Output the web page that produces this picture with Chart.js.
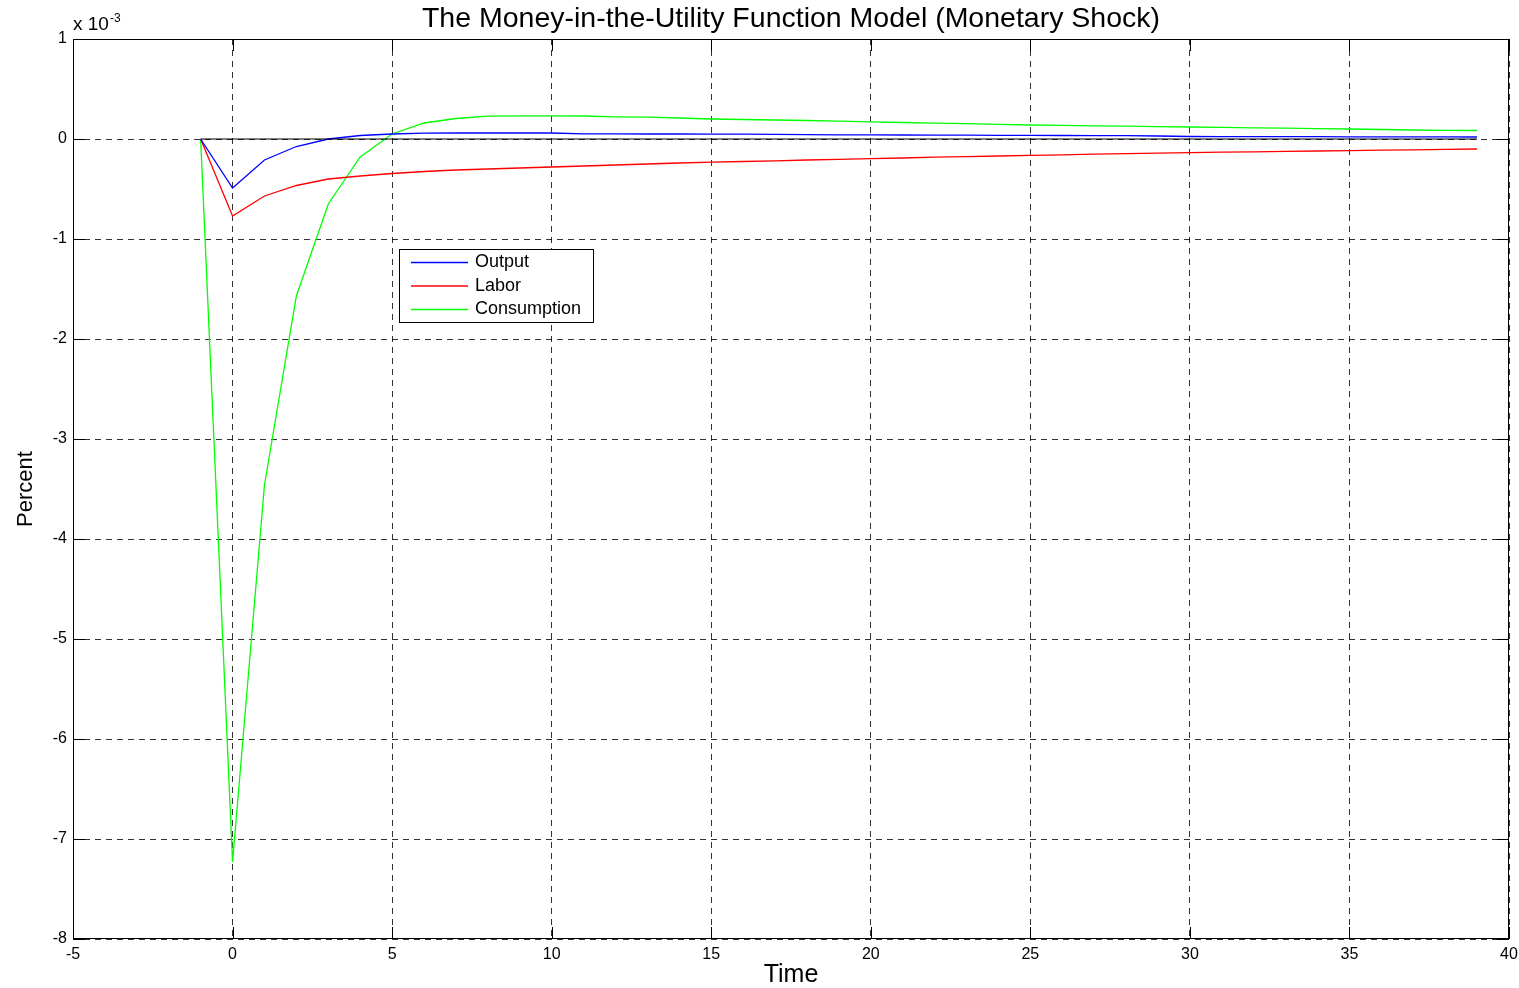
<!DOCTYPE html>
<html>
<head>
<meta charset="utf-8">
<script src="https://cdn.jsdelivr.net/npm/chart.js@4.4.0/dist/chart.umd.min.js"></script>
<style>
  html, body { margin: 0; padding: 0; background: #fff; }
  #wrap { width: 1519px; height: 988px; }
</style>
</head>
<body>
<div id="wrap"><canvas id="irf"></canvas></div>
<script>
// impulse responses, units of 1e-3
const tiempo = [-1, 0, 1, 2, 3, 4, 5, 6, 7, 8, 9, 10, 11, 12, 13, 14, 15, 16, 17, 18, 19,
  20, 21, 22, 23, 24, 25, 26, 27, 28, 29, 30, 31, 32, 33, 34, 35, 36, 37, 38, 39];
const output = [0, -0.49, -0.21, -0.075, 0.0, 0.035, 0.05, 0.058, 0.06, 0.06, 0.06, 0.06,
  0.052, 0.051, 0.05, 0.05, 0.049, 0.048, 0.047, 0.043, 0.042, 0.041, 0.04, 0.039, 0.038,
  0.037, 0.036, 0.035, 0.034, 0.033, 0.03, 0.025, 0.024, 0.024, 0.023, 0.023, 0.022, 0.022,
  0.021, 0.021, 0.02];
const labor = [0, -0.77, -0.57, -0.465, -0.40, -0.37, -0.345, -0.325, -0.31, -0.30, -0.29,
  -0.28, -0.27, -0.26, -0.25, -0.24, -0.232, -0.225, -0.218, -0.21, -0.203, -0.196, -0.19,
  -0.182, -0.176, -0.17, -0.163, -0.158, -0.152, -0.147, -0.142, -0.137, -0.132, -0.128,
  -0.124, -0.12, -0.116, -0.112, -0.108, -0.104, -0.1];
const consumo = [0, -7.23, -3.46, -1.57, -0.65, -0.18, 0.05, 0.16, 0.205, 0.228, 0.232, 0.232,
  0.23, 0.222, 0.218, 0.21, 0.2, 0.195, 0.19, 0.185, 0.178, 0.172, 0.165, 0.158, 0.153,
  0.147, 0.14, 0.136, 0.132, 0.128, 0.124, 0.12, 0.116, 0.112, 0.108, 0.104, 0.1, 0.095,
  0.09, 0.087, 0.085];
const nombres = ["Output", "Labor", "Consumption"];
const colores = ["#0000ff", "#ff0000", "#00ff00"];
const xTicks = [-5, 0, 5, 10, 15, 20, 25, 30, 35, 40];
const yTicks = [-8, -7, -6, -5, -4, -3, -2, -1, 0, 1];
const titulo = "The Money-in-the-Utility Function Model (Monetary Shock)";

const fuente = '"Liberation Sans", Arial, Helvetica, sans-serif';

function puntos(serie) {
  return tiempo.map((t, i) => ({ x: t, y: serie[i] }));
}

const series = [output, labor, consumo].map((s, i) => ({
  label: nombres[i],
  data: puntos(s),
  borderColor: colores[i],
  borderWidth: 1.3,
  pointRadius: 0,
  tension: 0,
  fill: false,
}));

// black zero line across the simulated horizon
series.unshift({
  label: "cero",
  data: [{ x: tiempo[0], y: 0 }, { x: tiempo[tiempo.length - 1], y: 0 }],
  borderColor: "#000",
  borderWidth: 1,
  pointRadius: 0,
  fill: false,
});

const marco = {
  id: "marco",
  afterDraw(chart) {
    const ctx = chart.ctx;
    const a = chart.chartArea;
    const sx = chart.scales.x;
    const sy = chart.scales.y;
    ctx.save();
    ctx.strokeStyle = "#000";
    ctx.lineWidth = 1;
    ctx.setLineDash([]);
    ctx.strokeRect(a.left + 0.5, a.top + 0.5, a.right - a.left - 1, a.bottom - a.top - 1);

    // inward tick marks
    const largo = 12;
    ctx.beginPath();
    xTicks.forEach((v) => {
      const px = Math.round(sx.getPixelForValue(v)) + 0.5;
      ctx.moveTo(px, a.bottom); ctx.lineTo(px, a.bottom - largo);
      ctx.moveTo(px, a.top); ctx.lineTo(px, a.top + largo);
    });
    yTicks.forEach((v) => {
      const py = Math.round(sy.getPixelForValue(v)) + 0.5;
      ctx.moveTo(a.left, py); ctx.lineTo(a.left + largo, py);
      ctx.moveTo(a.right, py); ctx.lineTo(a.right - largo, py);
    });
    ctx.stroke();

    // title centred on the axes
    ctx.fillStyle = "#000";
    ctx.textAlign = "center";
    ctx.textBaseline = "middle";
    ctx.font = "28.5px " + fuente;
    ctx.fillText(titulo, (a.left + a.right) / 2, 19);

    // exponent label
    ctx.textBaseline = "alphabetic";
    ctx.textAlign = "left";
    ctx.font = "19px " + fuente;
    ctx.fillText("x 10", a.left, a.top - 9);
    const w = ctx.measureText("x 10").width;
    ctx.font = "12px " + fuente;
    ctx.fillText("-3", a.left + w + 1, a.top - 17);

    // legend box
    const lx = 399, ly = 249, lw = 194, lh = 73;
    ctx.fillStyle = "#fff";
    ctx.fillRect(lx, ly, lw, lh);
    ctx.strokeRect(lx + 0.5, ly + 0.5, lw, lh);
    ctx.font = "18px " + fuente;
    ctx.textBaseline = "middle";
    ctx.lineWidth = 1.3;
    nombres.forEach((n, i) => {
      const yy = ly + 13.5 + i * 23.5;
      ctx.strokeStyle = colores[i];
      ctx.beginPath();
      ctx.moveTo(lx + 12, yy);
      ctx.lineTo(lx + 69, yy);
      ctx.stroke();
      ctx.fillStyle = "#000";
      ctx.fillText(n, lx + 76, yy);
    });
    ctx.restore();
  },
};

new Chart(document.getElementById("irf"), {
  type: "line",
  data: { datasets: series },
  options: {
    responsive: true,
    maintainAspectRatio: false,
    animation: false,
    layout: { padding: { left: 0, right: 10, top: 39, bottom: 0 } },
    plugins: {
      legend: { display: false },
      tooltip: { enabled: false },
      title: { display: false },
    },
    scales: {
      x: {
        type: "linear",
        min: -5,
        max: 40,
        afterBuildTicks: (s) => { s.ticks = xTicks.map((v) => ({ value: v })); },
        ticks: { color: "#000", font: { family: fuente, size: 16 }, padding: 6, maxRotation: 0 },
        grid: { color: "rgba(0,0,0,0.8)", lineWidth: 1, drawTicks: false },
        border: { display: false, dash: [6, 5] },
        title: {
          display: true,
          text: "Time",
          color: "#000",
          font: { family: fuente, size: 25, lineHeight: 1.0 },
          padding: { top: 0, bottom: 0 },
        },
        afterFit: (s) => { s.height = 49; s.paddingLeft = 0; s.paddingRight = 0; },
      },
      y: {
        min: -8,
        max: 1,
        afterBuildTicks: (s) => { s.ticks = yTicks.map((v) => ({ value: v })); },
        ticks: { color: "#000", font: { family: fuente, size: 16 }, padding: 6 },
        grid: { color: "rgba(0,0,0,0.8)", lineWidth: 1, drawTicks: false },
        border: { display: false, dash: [6, 5] },
        title: {
          display: true,
          text: "Percent",
          color: "#000",
          font: { family: fuente, size: 22 },
          padding: { top: 13, bottom: 0 },
        },
        afterFit: (s) => { s.width = 73; s.paddingTop = 0; s.paddingBottom = 0; },
      },
    },
  },
  plugins: [marco],
});
</script>
</body>
</html>
